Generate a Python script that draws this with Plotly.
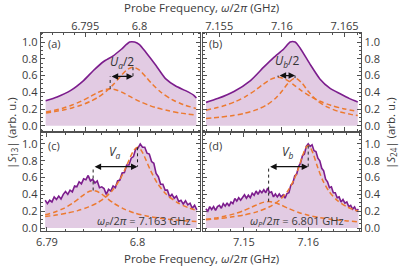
import numpy as np
import plotly.graph_objects as go

# ---------------- data ----------------
# panel (a): |S13|, smooth scan
freq_a = [6.79136, 6.79242, 6.79364, 6.79485, 6.79576, 6.79667, 6.79758, 6.79833, 6.79909,
          6.79955, 6.80000, 6.80060, 6.80152, 6.80242, 6.80333, 6.80424, 6.80500, 6.80524]
s13_a = [0.30, 0.345, 0.42, 0.54, 0.66, 0.765, 0.835, 0.914, 1.0,
         1.0, 0.97, 0.875, 0.72, 0.56, 0.475, 0.42, 0.365, 0.333]
fit_a1_f = [6.7914, 6.7922, 6.7930, 6.7938, 6.7946, 6.7954, 6.7960, 6.7966, 6.7970, 6.7973,
            6.7976, 6.7980, 6.7986, 6.7992, 6.8000, 6.8008, 6.8016, 6.8026, 6.8038, 6.8052]
fit_a1 = [0.166, 0.187, 0.214, 0.249, 0.292, 0.345, 0.387, 0.422, 0.437, 0.440,
          0.437, 0.422, 0.387, 0.345, 0.292, 0.249, 0.214, 0.182, 0.152, 0.128]
fit_a2_f = [6.7914, 6.7922, 6.7930, 6.7938, 6.7946, 6.7954, 6.7962, 6.7970, 6.7976, 6.7982,
            6.7988, 6.7994, 6.8000, 6.8006, 6.8012, 6.8020, 6.8030, 6.8040, 6.8052]
fit_a2 = [0.154, 0.170, 0.190, 0.214, 0.246, 0.287, 0.343, 0.420, 0.495, 0.582,
          0.664, 0.700, 0.664, 0.582, 0.495, 0.398, 0.313, 0.255, 0.208]

# panel (b): |S24|, smooth scan
freq_b = [7.15395, 7.15487, 7.15618, 7.15750, 7.15855, 7.15934, 7.16013, 7.16066,
          7.16105, 7.16145, 7.16224, 7.16303, 7.16382, 7.16461, 7.16540, 7.16605]
s24_b = [0.28, 0.325, 0.41, 0.54, 0.70, 0.815, 0.914, 1.0,
         1.0, 0.93, 0.737, 0.56, 0.45, 0.385, 0.325, 0.286]
fit_b1_f = [7.15395, 7.1547, 7.1555, 7.1563, 7.1571, 7.1579, 7.1585, 7.1591, 7.1597,
            7.1603, 7.1609, 7.1615, 7.1623, 7.1631, 7.1639, 7.1649, 7.16605]
fit_b1 = [0.187, 0.212, 0.245, 0.290, 0.349, 0.427, 0.495, 0.555, 0.580,
          0.555, 0.495, 0.427, 0.349, 0.290, 0.245, 0.205, 0.171]
fit_b2_f = [7.15395, 7.1550, 7.1560, 7.1570, 7.1580, 7.1588, 7.1595, 7.1600, 7.1605,
            7.16105, 7.1616, 7.1621, 7.1628, 7.1636, 7.1645, 7.1655, 7.16605]
fit_b2 = [0.087, 0.102, 0.121, 0.149, 0.193, 0.250, 0.330, 0.412, 0.510,
          0.570, 0.510, 0.412, 0.303, 0.226, 0.173, 0.137, 0.122]

# panel (c): |S13| with pump at 7.163 GHz (noisy scan)
s13_c = [0.33, 0.29, 0.33, 0.31, 0.37, 0.34, 0.38, 0.345, 0.40, 0.435,
         0.40, 0.45, 0.43, 0.50, 0.49, 0.55, 0.525, 0.585, 0.575, 0.625,
         0.56, 0.58, 0.535, 0.56, 0.48, 0.49, 0.47, 0.40, 0.46, 0.44,
         0.50, 0.48, 0.56, 0.57, 0.655, 0.66, 0.75, 0.75, 0.83, 0.85,
         0.94, 0.95, 1.00, 0.96, 0.96, 0.89, 0.88, 0.79, 0.77, 0.65,
         0.61, 0.52, 0.52, 0.45, 0.45, 0.37, 0.40, 0.355, 0.38, 0.315,
         0.33, 0.285, 0.325, 0.275, 0.295, 0.235, 0.27, 0.215]
freq_c = np.linspace(6.7898, 6.80655, len(s13_c))
fit_c1_f = [6.7898, 6.7908, 6.7918, 6.7928, 6.7936, 6.7942, 6.7947, 6.7951, 6.7955, 6.7960,
            6.7966, 6.7974, 6.7984, 6.7996, 6.8010, 6.8025, 6.8040, 6.8055, 6.8065]
fit_c1 = [0.157, 0.188, 0.231, 0.293, 0.357, 0.407, 0.437, 0.446, 0.437, 0.407,
          0.357, 0.293, 0.231, 0.181, 0.143, 0.116, 0.098, 0.084, 0.077]
fit_c2_f = [6.7898, 6.7910, 6.7922, 6.7934, 6.7946, 6.7956, 6.7964, 6.7972, 6.7980, 6.7986,
            6.7992, 6.7996, 6.8000, 6.8004, 6.8008, 6.8014, 6.8022, 6.8032, 6.8044, 6.8056, 6.8065]
fit_c2 = [0.136, 0.154, 0.177, 0.207, 0.251, 0.302, 0.361, 0.444, 0.566, 0.693,
          0.842, 0.926, 0.960, 0.926, 0.842, 0.693, 0.531, 0.399, 0.302, 0.242, 0.210]

# panel (d): |S24| with pump at 6.801 GHz (noisy scan)
s24_d = [0.23, 0.20, 0.255, 0.22, 0.255, 0.21, 0.255, 0.27, 0.235, 0.29,
         0.26, 0.30, 0.26, 0.31, 0.29, 0.35, 0.32, 0.36, 0.33, 0.365,
         0.395, 0.355, 0.39, 0.36, 0.415, 0.39, 0.44, 0.40, 0.445, 0.42,
         0.455, 0.42, 0.475, 0.42, 0.43, 0.37, 0.405, 0.37, 0.405, 0.37,
         0.395, 0.355, 0.41, 0.42, 0.51, 0.53, 0.62, 0.64, 0.73, 0.77,
         0.86, 0.88, 0.97, 1.00, 0.97, 0.99, 0.92, 0.91, 0.83, 0.80,
         0.71, 0.68, 0.58, 0.55, 0.48, 0.49, 0.42, 0.42, 0.36, 0.37,
         0.31, 0.34, 0.295, 0.31, 0.255, 0.27, 0.225, 0.25, 0.205, 0.225]
freq_d = np.linspace(7.1441, 7.1678, len(s24_d))
fit_d1_f = [7.1441, 7.1455, 7.1470, 7.1485, 7.1500, 7.1512, 7.1522, 7.1530, 7.15385,
            7.1547, 7.1557, 7.1570, 7.1585, 7.1600, 7.1618, 7.1638, 7.1658, 7.1678]
fit_d1 = [0.103, 0.118, 0.140, 0.168, 0.208, 0.248, 0.282, 0.305, 0.314,
          0.305, 0.276, 0.230, 0.185, 0.152, 0.123, 0.102, 0.086, 0.074]
fit_d2_f = [7.1441, 7.1460, 7.1480, 7.1500, 7.1520, 7.1540, 7.1556, 7.1568, 7.1578, 7.1586,
            7.1592, 7.1597, 7.1600, 7.1603, 7.1608, 7.1614, 7.1622, 7.1632, 7.1645, 7.1660, 7.1678]
fit_d2 = [0.098, 0.111, 0.130, 0.155, 0.192, 0.253, 0.335, 0.438, 0.576, 0.737,
          0.877, 0.963, 0.980, 0.963, 0.877, 0.737, 0.576, 0.438, 0.328, 0.253, 0.197]

arrow_levels = [0.59, 0.60, 0.73, 0.73]
arrow_labels = ["<i>U</i><sub><i>a</i></sub>/2", "<i>U</i><sub><i>b</i></sub>/2",
                "<i>V</i><sub><i>a</i></sub>", "<i>V</i><sub><i>b</i></sub>"]
panel_labels = ["(a)", "(b)", "(c)", "(d)"]
pump_labels = ["<i>ω</i><sub><i>P</i></sub>/2<i>π</i> = 7.163 GHz",
               "<i>ω</i><sub><i>P</i></sub>/2<i>π</i> = 6.801 GHz"]

top_a_ticks = [6.795, 6.8]
top_a_text = ["6.795", "6.8"]
top_b_ticks = [7.155, 7.16, 7.165]
top_b_text = ["7.155", "7.16", "7.165"]
bot_c_ticks = [6.79, 6.8]
bot_c_text = ["6.79", "6.8"]
bot_d_ticks = [7.15, 7.16]
bot_d_text = ["7.15", "7.16"]
y_ticks = [0.0, 0.2, 0.4, 0.6, 0.8, 1.0]

# ---------------- style ----------------
PURPLE = "#7c1d8d"
FILL = "#e2cbe3"
ORANGE = "#ec7a30"
FRAME = "#505050"
TXT = "#3a3a3a"
FONT = "Open Sans"
FS = 11
W, H = 399, 270

fig = go.Figure()


def paper_text(px, py, text, size, angle=0):
    """Text centred at pixel (px, py) measured from the top-left corner."""
    fig.add_annotation(x=px / W, y=(H - py) / H, xref="paper", yref="paper",
                       xanchor="center", yanchor="middle", text=text, textangle=angle,
                       showarrow=False, borderpad=0,
                       font=dict(family=FONT, size=size, color=TXT))


panels = [
    ("x", "y", freq_a, s13_a, True, [(fit_a1_f, fit_a1), (fit_a2_f, fit_a2)]),
    ("x2", "y2", freq_b, s24_b, True, [(fit_b1_f, fit_b1), (fit_b2_f, fit_b2)]),
    ("x3", "y3", freq_c, s13_c, False, [(fit_c1_f, fit_c1), (fit_c2_f, fit_c2)]),
    ("x4", "y4", freq_d, s24_d, False, [(fit_d1_f, fit_d1), (fit_d2_f, fit_d2)]),
]
letter_px = [(51, 44), (214, 44), (51, 148), (214, 148)]

for i, (xa, ya, fx, fy, smooth, fits) in enumerate(panels):
    line = dict(color=PURPLE, width=1.6)
    if smooth:
        line.update(shape="spline", smoothing=0.6)
    fig.add_trace(go.Scatter(x=fx, y=fy, mode="lines", fill="tozeroy", fillcolor=FILL,
                             line=line, xaxis=xa, yaxis=ya, showlegend=False, hoverinfo="skip"))
    peaks = []
    for ff, fv in fits:
        fig.add_trace(go.Scatter(x=ff, y=fv, mode="lines",
                                 line=dict(color=ORANGE, width=1.5, dash="5px,3px",
                                           shape="spline", smoothing=0.8),
                                 xaxis=xa, yaxis=ya, showlegend=False, hoverinfo="skip"))
        k = int(np.argmax(fv))
        peaks.append((ff[k], fv[k]))
    lvl = arrow_levels[i]
    for px, py in peaks:
        fig.add_shape(type="line", x0=px, x1=px, y0=py, y1=lvl, xref=xa, yref=ya,
                      line=dict(color="#222222", width=1, dash="dot"))
    (x1, _), (x2, _) = sorted(peaks)
    fig.add_annotation(x=x2, y=lvl, ax=x1, ay=lvl, xref=xa, yref=ya, axref=xa, ayref=ya,
                       text="", showarrow=True, arrowhead=2, arrowside="end+start",
                       arrowsize=1.0, arrowwidth=1.3, arrowcolor="#111111",
                       standoff=0, startstandoff=0)
    fig.add_annotation(x=(x1 + x2) / 2, y=lvl + 0.04, xref=xa, yref=ya, text=arrow_labels[i],
                       showarrow=False, xanchor="center", yanchor="bottom",
                       font=dict(family=FONT, size=12, color="#333333"))
    lx, ly = letter_px[i]
    paper_text(lx, ly, panel_labels[i], FS)

# pump annotations
paper_text(141, 224, pump_labels[0], FS)
paper_text(296, 224, pump_labels[1], FS)

xd_l = [37 / W, 198 / W]
xd_r = [201 / W, 361 / W]
yd_t = [(H - 133) / H, (H - 33) / H]
yd_b = [(H - 234) / H, (H - 135) / H]

common = dict(showline=True, linecolor=FRAME, linewidth=1, mirror="ticks", ticks="inside",
              ticklen=4, tickcolor=FRAME, tickwidth=1, showgrid=False, zeroline=False,
              tickfont=dict(family=FONT, size=FS, color=TXT), fixedrange=True)


def xax(domain, rng, side, anchor, tv, tt, minor_dt, standoff):
    d = dict(common)
    d.update(domain=domain, range=rng, side=side, anchor=anchor, tickmode="array",
             tickvals=tv, ticktext=tt, ticklabelstandoff=standoff,
             minor=dict(ticks="inside", ticklen=2, tickcolor=FRAME, dtick=minor_dt, tick0=tv[0]))
    return d


def yax(domain, rng, side, anchor):
    d = dict(common)
    d.update(domain=domain, range=rng, side=side, anchor=anchor, tickmode="array",
             tickvals=y_ticks, ticktext=[f"{v:.1f}" for v in y_ticks],
             minor=dict(ticks="inside", ticklen=2, tickcolor=FRAME, dtick=0.05, tick0=0))
    return d


fig.update_layout(
    width=W, height=H, margin=dict(l=0, r=0, t=0, b=0),
    paper_bgcolor="white", plot_bgcolor="white",
    xaxis=xax(xd_l, [6.7909, 6.80557], "top", "y", top_a_ticks, top_a_text, 0.001, -3),
    yaxis=yax(yd_t, [-0.062, 1.114], "left", "x"),
    xaxis2=xax(xd_r, [7.15371, 7.16634], "top", "y2", top_b_ticks, top_b_text, 0.001, -3),
    yaxis2=yax(yd_t, [-0.062, 1.114], "right", "x2"),
    xaxis3=xax(xd_l, [6.7893, 6.8069], "bottom", "y3", bot_c_ticks, bot_c_text, 0.002, 1),
    yaxis3=yax(yd_b, [-0.03, 1.13], "left", "x3"),
    xaxis4=xax(xd_r, [7.14365, 7.16826], "bottom", "y4", bot_d_ticks, bot_d_text, 0.002, 1),
    yaxis4=yax(yd_b, [-0.03, 1.13], "right", "x4"),
)

xtitle = "Probe Frequency, <i>ω</i>/2<i>π</i> (GHz)"
paper_text(199.5, 8, xtitle, 11.5)
paper_text(199.5, 262, xtitle, 11.5)
paper_text(8, 135, "|<i>S</i><sub>13</sub>| (arb. u.)", 11.5, -90)
paper_text(391, 135, "|<i>S</i><sub>24</sub>| (arb. u.)", 11.5, -90)

# remove the browser's default 8px body margin so the figure sits at the window origin
fig.write_html("out.html", config={"displayModeBar": False},
               post_script="document.body.style.margin='0px';")
